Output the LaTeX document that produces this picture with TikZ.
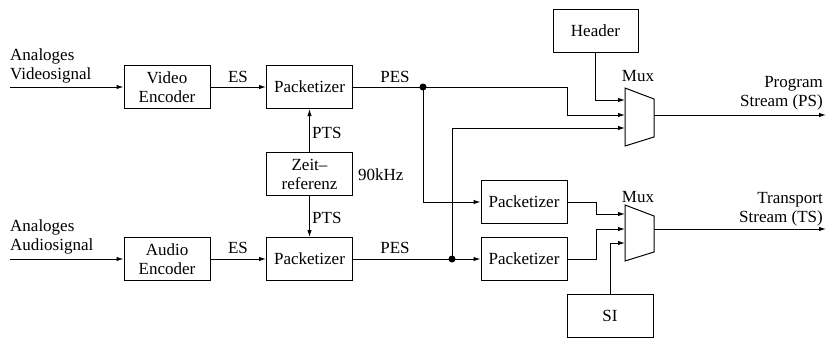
\documentclass[tikz,border=0pt]{standalone}
\usepackage{fontspec}
\setmainfont{Liberation Serif}
\usetikzlibrary{arrows.meta}
\begin{document}
\begin{tikzpicture}[x=1pt,y=-1pt,
  every node/.style={font=\fontsize{17}{19}\selectfont, inner sep=0pt},
  blk/.style={draw, line width=1pt, minimum width=86pt, minimum height=43pt, align=center},
  ln/.style={line width=1pt},
  arr/.style={ln, -{Latex[length=7pt,width=4.5pt]}},
  lbl/.style={align=left},
  jdot/.style={circle, fill=black, minimum size=7pt, inner sep=0pt}]
\useasboundingbox (0,0) rectangle (827,338);

% blocks
\node[blk] (venc) at (167,87) {Video\\Encoder};
\node[blk] (vpkt) at (309.5,87) {Packetizer};
\node[blk] (zeit) at (309.5,174) {Zeit–\\referenz};
\node[blk] (apkt) at (309.5,259) {Packetizer};
\node[blk] (aenc) at (167,259) {Audio\\Encoder};
\node[blk, minimum width=85pt] (header) at (595.5,30.5) {Header};
\node[blk] (tpkt1) at (524,202) {Packetizer};
\node[blk] (tpkt2) at (524,259) {Packetizer};
\node[blk] (si) at (610,316) {SI};

% muxes
\draw[ln] (625,88) -- (654,99) -- (654,137) -- (625,146) -- cycle;
\draw[ln] (625,205) -- (654,216) -- (654,252) -- (625,261) -- cycle;
\coordinate (m1a) at (625,100);
\coordinate (m1b) at (625,115);
\coordinate (m1c) at (625,128);
\coordinate (m1o) at (654,115);
\coordinate (m2a) at (625,214);
\coordinate (m2b) at (625,229);
\coordinate (m2c) at (625,243);
\coordinate (m2o) at (654,229);
\coordinate (ps) at (826,115);
\coordinate (ts) at (826,229);
\coordinate (vin) at (10,87);
\coordinate (ain) at (10,259);

% junctions
\node[jdot] (j1) at (423,87) {};
\node[jdot] (j2) at (452,259) {};

% labels
\node[lbl, anchor=west] at (10,66) {Analoges\\Videosignal};
\node[lbl, anchor=west] at (10,237) {Analoges\\Audiosignal};
\node at (238,77) {ES};
\node at (238,248) {ES};
\node at (395,77) {PES};
\node at (395,248) {PES};
\node[anchor=west] at (312,133) {PTS};
\node[anchor=west] at (312,218) {PTS};
\node[anchor=west] at (358,175) {90kHz};
\node at (638,76) {Mux};
\node at (638,197) {Mux};
\node[align=right, anchor=east] at (823,93) {Program\\Stream (PS)};
\node[align=right, anchor=east] at (823,209) {Transport\\Stream (TS)};

% connectors
\draw[arr] (vin) -- (venc);
\draw[arr] (ain) -- (aenc);
\draw[arr] (venc) -- (vpkt);
\draw[arr] (aenc) -- (apkt);
\draw[arr] (zeit) -- (vpkt);
\draw[arr] (zeit) -- (apkt);
\draw[ln] (vpkt) -- (j1.center);
\draw[ln] (apkt) -- (j2.center);
\draw[arr] (j1.center) -- (567,87) |- (m1b);
\draw[arr] (header) |- (m1a);
\draw[arr] (j2.center) |- (m1c);
\draw[arr] (j1.center) |- (tpkt1);
\draw[arr] (j2.center) -- (tpkt2);
\draw[arr] (tpkt1) -- (596,202) |- (m2a);
\draw[arr] (tpkt2) -- (596,259) |- (m2b);
\draw[arr] (si) |- (m2c);
\draw[arr] (m1o) -- (ps);
\draw[arr] (m2o) -- (ts);
\end{tikzpicture}
\end{document}
